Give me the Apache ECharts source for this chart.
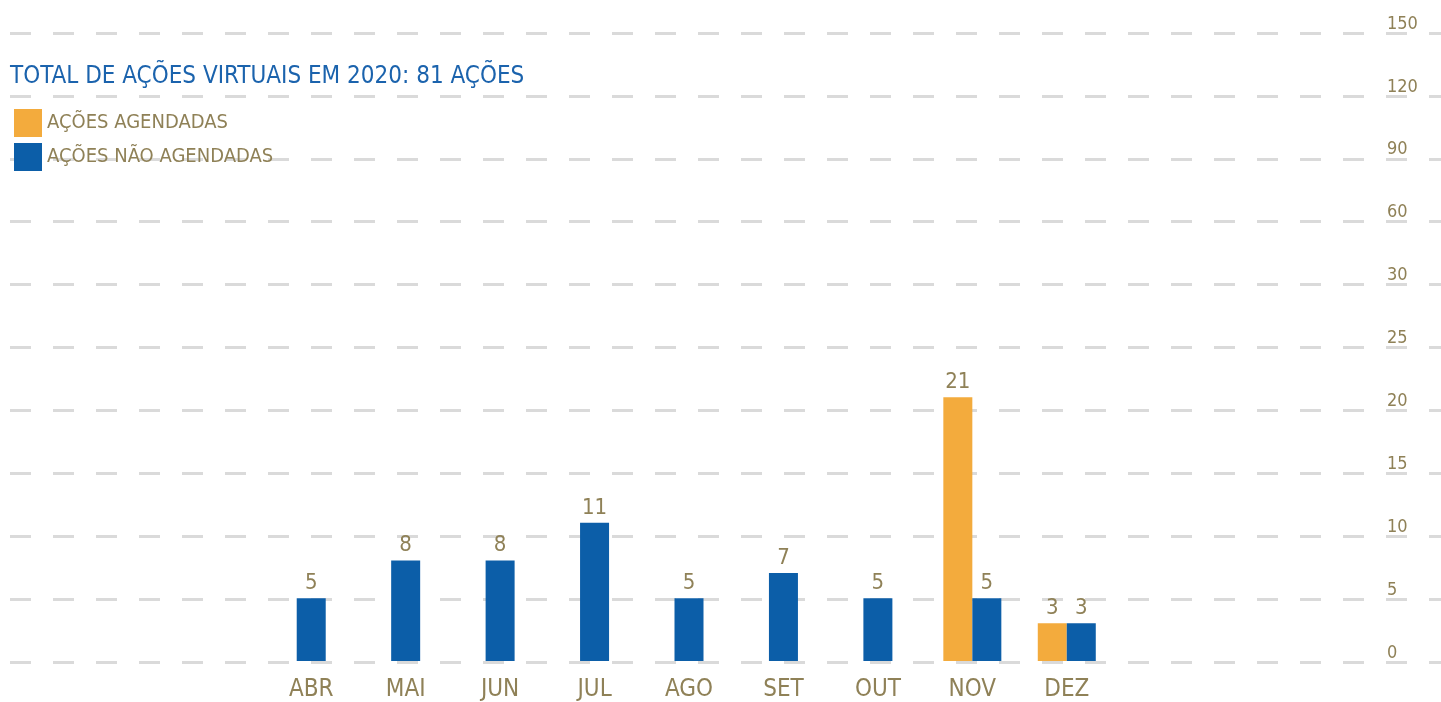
<!DOCTYPE html>
<html>
<head>
<meta charset="utf-8">
<script src="https://cdn.jsdelivr.net/npm/echarts@6/dist/echarts.min.js"></script>
<style>
    html, body { margin: 0; padding: 0; background: #fff; }
    #chart { width: 1441px; height: 702px; }
</style>
</head>
<body>
<div id="chart"></div>
<script>
// dados
const meses = ['ABR', 'MAI', 'JUN', 'JUL', 'AGO', 'SET', 'OUT', 'NOV', 'DEZ'];
const agendadas = [null, null, null, null, null, null, null, 21, 3];
const naoAgendadas = [5, 8, 8, 11, 5, 7, 5, 5, 3];
// eixo y: posições lineares 0..50, rótulos não lineares
const yTicks = [0, 5, 10, 15, 20, 25, 30, 35, 40, 45, 50];
const yLabels = ['0', '5', '10', '15', '20', '25', '30', '60', '90', '120', '150'];

const FONT = '"Liberation Sans Narrow", "DejaVu Sans Condensed", "Roboto", sans-serif';
const TEXT = '#8f8157';
const AZUL = '#0c5ea8';
const LARANJA = '#f3ab3d';

// meses sem ação agendada: barra azul centrada; demais: par laranja/azul
const naoSolo = naoAgendadas.map((v, i) => agendadas[i] == null ? v : null);
const naoPar = naoAgendadas.map((v, i) => agendadas[i] == null ? null : v);

const chart = echarts.init(document.getElementById('chart'));

const valueLabel = {
    show: true,
    position: 'top',
    distance: 4,
    color: TEXT,
    fontFamily: FONT,
    fontSize: 22
};

chart.setOption({
    animation: false,
    title: {
        text: 'TOTAL DE AÇÕES VIRTUAIS EM 2020: 81 AÇÕES',
        left: 5,
        top: 60,
        textStyle: { color: '#1b63ad', fontFamily: FONT, fontSize: 24, fontWeight: 'normal' }
    },
    legend: {
        orient: 'vertical',
        left: 14,
        top: 109,
        padding: 0,
        itemWidth: 28,
        itemHeight: 28,
        itemGap: 6,
        icon: 'rect',
        data: ['AÇÕES AGENDADAS', 'AÇÕES NÃO AGENDADAS'],
        textStyle: { color: TEXT, fontFamily: FONT, fontSize: 20 }
    },
    grid: [
        { left: 10, right: 0, top: 33, bottom: 40 },
        { left: 264, right: 327, top: 33, bottom: 40 }
    ],
    xAxis: [
        { type: 'value', gridIndex: 0, show: false, min: 0, max: 1 },
        {
            type: 'category', gridIndex: 1, data: meses,
            axisLine: { show: false }, axisTick: { show: false },
            axisLabel: { color: TEXT, fontFamily: FONT, fontSize: 24, margin: 17 }
        },
        { type: 'category', gridIndex: 1, data: meses, show: false }
    ],
    yAxis: [
        {
            type: 'value', gridIndex: 0, position: 'right',
            min: 0, max: 50, interval: 5,
            axisLine: { show: false }, axisTick: { show: false },
            axisLabel: {
                margin: -54,
                align: 'left',
                verticalAlign: 'bottom',
                lineHeight: 18,
                color: TEXT, fontFamily: FONT, fontSize: 18,
                formatter: v => yLabels[yTicks.indexOf(v)]
            },
            splitLine: { lineStyle: { color: '#dadada', width: 3, type: [21, 22] } }
        },
        {
            type: 'value', gridIndex: 1, min: 0, max: 50, interval: 5, show: false,
            splitLine: { show: false }
        }
    ],
    series: [
        {
            name: 'AÇÕES AGENDADAS', type: 'bar', xAxisIndex: 1, yAxisIndex: 1,
            data: agendadas, barWidth: 29, barGap: '0%',
            itemStyle: { color: LARANJA }, label: valueLabel
        },
        {
            name: 'AÇÕES NÃO AGENDADAS', type: 'bar', xAxisIndex: 1, yAxisIndex: 1,
            data: naoPar, barWidth: 29, barGap: '0%',
            itemStyle: { color: AZUL }, label: valueLabel
        },
        {
            name: 'AÇÕES NÃO AGENDADAS', type: 'bar', xAxisIndex: 2, yAxisIndex: 1,
            data: naoSolo, barWidth: 29,
            itemStyle: { color: AZUL }, label: valueLabel
        }
    ]
});
</script>
</body>
</html>
